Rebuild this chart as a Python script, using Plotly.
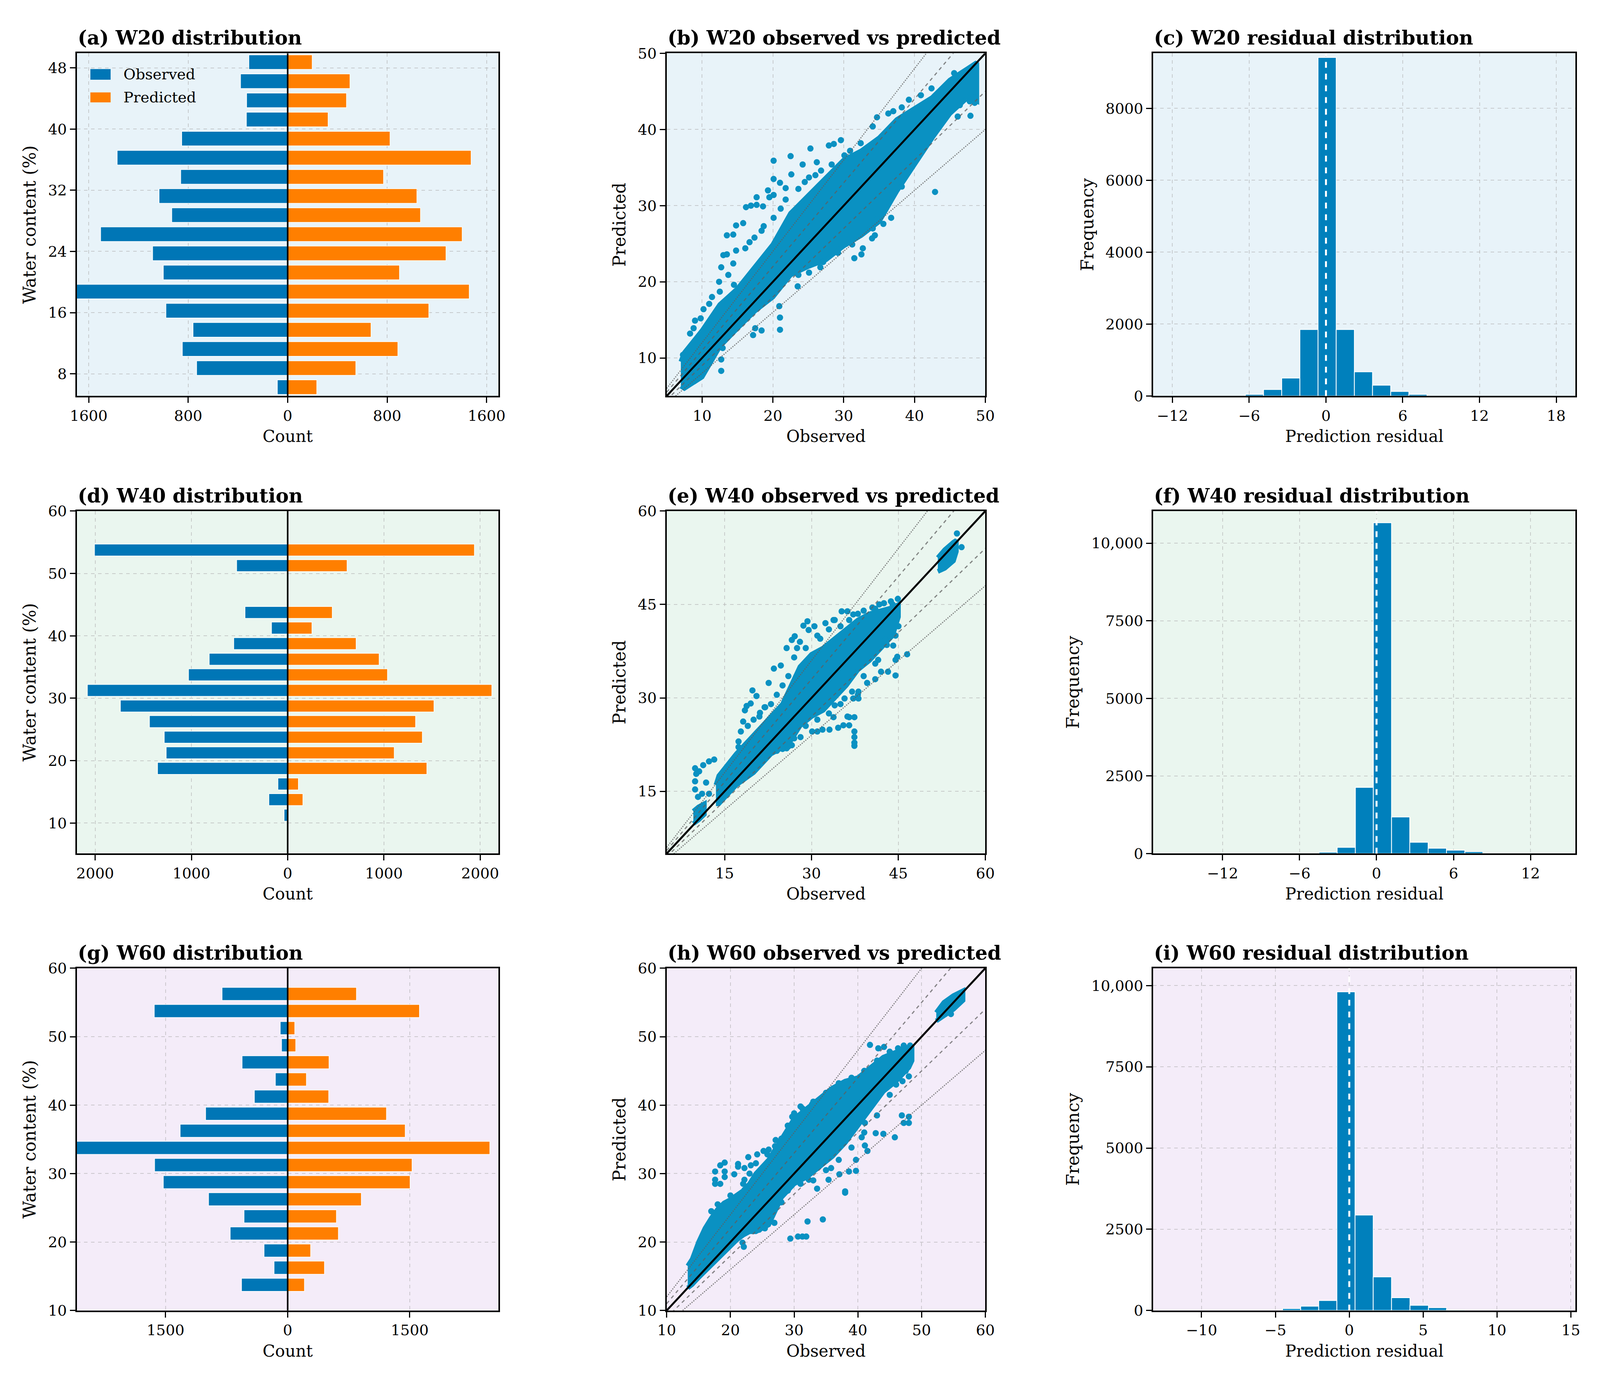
import numpy as np
import plotly.graph_objects as go

FONT = "DejaVu Serif"
BLUE = "#0076b6"
ORANGE = "#ff7f00"
SCAT = "#0a91c2"
HIST = "#0080bc"
BGS = ["#e8f3f9", "#eaf6ef", "#f4ecf9"]

# ---------------- distribution panels (a), (d), (g) ----------------
w20_centers = [6.25, 8.75, 11.25, 13.75, 16.25, 18.75, 21.25, 23.75, 26.25, 28.75,
               31.25, 33.75, 36.25, 38.75, 41.25, 43.75, 46.25, 48.75]
w20_observed = [83, 732, 847, 761, 979, 1700, 1000, 1086, 1504, 932,
                1034, 860, 1371, 852, 332, 330, 379, 312]
w20_predicted = [234, 548, 886, 670, 1135, 1460, 899, 1273, 1403, 1068,
                 1039, 771, 1475, 823, 325, 473, 501, 197]

w40_centers = [11.25, 13.75, 16.25, 18.75, 21.25, 23.75, 26.25, 28.75, 31.25, 33.75,
               36.25, 38.75, 41.25, 43.75, 46.25, 48.75, 51.25, 53.75]
w40_observed = [37, 195, 101, 1352, 1262, 1282, 1436, 1738, 2081, 1030,
                815, 560, 168, 443, 0, 0, 530, 2007]
w40_predicted = [0, 158, 111, 1446, 1107, 1399, 1329, 1520, 2121, 1037,
                 950, 711, 252, 463, 0, 0, 617, 1940]

w60_centers = [13.75, 16.25, 18.75, 21.25, 23.75, 26.25, 28.75, 31.25, 33.75, 36.25,
               38.75, 41.25, 43.75, 46.25, 48.75, 51.25, 53.75, 56.25]
w60_observed = [567, 167, 290, 706, 536, 972, 1528, 1635, 2600, 1321,
                1008, 409, 151, 560, 75, 91, 1639, 806]
w60_predicted = [206, 452, 282, 623, 599, 905, 1504, 1528, 2484, 1444,
                 1214, 504, 230, 508, 99, 87, 1619, 845]

# ---------------- observed vs predicted (b), (e), (h) ----------------
# dense core of each point cloud: observed positions with lower / upper predicted envelope
w20_core_obs = [7.0, 7.5, 10, 12.5, 15, 17.5, 20, 22.5, 25, 27.5, 30, 32.5, 35, 37.5, 40, 42.5, 45, 47.5, 48.8]
w20_core_lo = [6.3, 6.0, 7.5, 11.5, 13.9, 16.2, 18.0, 20.9, 22.0, 22.9, 24.7, 26.1, 27.9, 31.9, 35.4, 38.9, 42.1, 44.2, 43.7]
w20_core_hi = [9.5, 10.7, 13.6, 17.0, 19.1, 22.0, 24.9, 29.0, 31.4, 33.7, 36.0, 37.2, 38.9, 41.3, 42.7, 44.2, 46.5, 48.0, 48.8]
w20_pts_obs = [20.1, 22.5, 25.3, 29.6, 27.9, 28.6, 24.2, 26.2, 22.6, 20.1, 21.0, 21.8, 19.3, 17.7, 16.2,
               16.9, 17.7, 18.6, 19.5, 20.1, 14.8, 15.8, 13.5, 14.4, 13.0, 13.5, 14.4, 14.8, 12.7, 13.7,
               12.4, 14.5, 12.5, 11.4, 9.8, 8.8, 8.3, 7.3, 16.1, 16.7, 17.4, 18.4, 18.7, 20.1, 21.1,
               21.8, 23.6, 24.5, 25.1, 26.0, 26.8, 28.3, 30.1, 30.9, 32.4, 34.1, 34.7, 36.3, 37.0, 38.2,
               39.2, 40.9, 42.4, 45.6,
               21.0, 21.0, 20.9, 23.6, 23.5, 25.1, 26.7, 27.1, 29.2, 31.5, 32.5, 32.7, 31.2, 34.0, 35.6,
               36.7, 36.2, 37.0, 38.2, 37.5, 39.7, 40.5, 40.7, 42.9, 42.6, 46.1, 47.9, 45.8, 46.4, 47.8,
               17.2, 17.5, 18.4, 12.7, 12.7, 12.9, 34.1, 34.4, 34.7, 48.5, 48.5, 48.3, 10.2, 11.0, 9.0]
w20_pts_pred = [35.9, 36.5, 37.5, 38.6, 37.9, 38.1, 35.4, 35.7, 34.1, 33.5, 33.0, 32.3, 32.0, 31.1, 29.8,
                30.0, 30.1, 29.9, 31.1, 31.4, 27.4, 27.7, 26.1, 26.2, 23.5, 23.6, 22.4, 24.1, 21.9, 20.9,
                20.0, 19.6, 18.7, 18.0, 15.2, 13.9, 13.2, 10.4, 24.4, 25.2, 25.8, 26.7, 27.3, 28.4, 29.6,
                30.8, 32.2, 33.1, 33.7, 34.0, 34.6, 35.4, 36.6, 37.2, 38.2, 40.4, 41.6, 42.1, 42.4, 42.9,
                43.9, 44.5, 45.4, 47.4,
                13.7, 15.3, 16.8, 20.9, 19.4, 21.2, 21.9, 22.6, 23.8, 23.1, 23.6, 24.4, 24.9, 25.7, 27.6,
                28.4, 31.4, 31.6, 32.5, 33.0, 35.4, 36.7, 38.2, 31.8, 41.3, 41.7, 41.8, 43.3, 43.2, 43.7,
                13.0, 13.9, 13.6, 8.3, 9.8, 11.3, 27.0, 26.1, 28.2, 43.5, 45.0, 44.2, 16.4, 17.1, 14.9]

w40_core_obs = [13.5, 14, 17, 20, 23, 25, 26, 28, 30, 32, 34, 36, 38, 40, 42, 44, 45]
w40_core_lo = [13.0, 13.0, 16.0, 18.0, 21.0, 22.0, 22.5, 25.5, 27.0, 28.0, 30.0, 32.0, 34.5, 36.0, 38.0, 40.0, 43.0]
w40_core_hi = [16.0, 17.5, 21.0, 24.0, 27.0, 29.0, 31.0, 35.0, 37.0, 38.0, 39.5, 41.0, 42.5, 43.5, 44.0, 44.5, 45.0]
w40_low_obs = [9.6, 10.5, 11.5]
w40_low_lo = [9.8, 10.4, 11.3]
w40_low_hi = [11.8, 12.5, 13.0]
w40_top_obs = [51.8, 53.0, 54.5, 55.0]
w40_top_lo = [50.3, 50.8, 52.0, 53.5]
w40_top_hi = [52.5, 53.8, 55.0, 55.3]
w40_pts_obs = [9.9, 10.1, 10.6, 11.3, 12.3, 13.2, 9.9, 9.9, 10.4, 11.1, 11.8, 12.3,
               17.1, 17.4, 17.4, 17.8, 18.2, 18.5, 18.8, 19.5, 19.8, 20.5, 21.1, 21.9, 22.6, 23.5,
               24.7, 25.7, 26.6, 27.1, 28.6, 29.5, 29.3, 31.0, 32.4, 33.8, 35.2, 36.2, 37.2, 40.5,
               41.7, 43.7, 44.9, 30.1, 31.0, 31.9, 33.1, 34.6, 35.5, 36.5, 36.2, 37.4, 37.4, 37.4,
               37.4, 37.4, 36.5, 33.8, 35.7, 37.2, 38.1, 38.1, 39.6, 41.0, 42.0, 43.2, 44.5, 44.5,
               44.8, 46.5, 44.1, 42.7, 41.5, 28.1, 26.6, 25.7, 55.1, 55.9,
               19.0, 20.0, 21.0, 22.0, 23.0, 24.0, 25.0, 26.0, 27.0, 27.5, 28.0, 29.0, 30.5, 31.5, 33.0,
               34.0, 35.0, 36.5, 38.0, 39.0, 41.0, 42.5, 44.0,
               24.0, 25.0, 26.0, 27.0, 29.0, 31.0, 33.0, 35.0, 37.0, 39.0, 41.0, 43.0, 44.5, 45.0,
               26.5, 28.0, 34.0, 38.0]
w40_pts_pred = [18.7, 17.8, 18.2, 19.2, 19.8, 20.1, 16.6, 15.3, 14.1, 14.6, 16.4, 14.6,
                20.5, 22.1, 23.0, 24.6, 26.2, 28.0, 28.7, 29.1, 31.2, 30.3, 27.6, 28.5, 32.4, 34.7,
                35.2, 38.0, 39.3, 39.9, 41.6, 40.9, 42.3, 40.0, 42.0, 42.5, 43.9, 43.9, 43.4, 44.5,
                45.0, 45.5, 45.9, 24.6, 24.6, 24.9, 24.9, 25.2, 25.6, 25.6, 27.0, 26.9, 24.6, 23.7,
                22.8, 22.3, 26.9, 26.9, 29.9, 29.9, 29.9, 31.0, 32.4, 33.0, 34.2, 34.2, 33.6, 36.1,
                36.6, 37.0, 38.4, 39.3, 36.1, 23.7, 22.4, 21.9, 56.4, 54.2,
                25.5, 26.5, 27.0, 28.5, 29.0, 30.5, 32.0, 33.5, 36.5, 38.0, 39.0, 38.0, 41.5, 39.5, 41.0,
                42.5, 41.5, 42.5, 43.5, 44.0, 44.3, 45.2, 45.0,
                21.5, 21.8, 22.2, 23.5, 25.5, 26.5, 27.5, 29.0, 31.0, 33.5, 35.5, 38.5, 40.0, 41.5,
                24.5, 26.0, 28.8, 30.5]

w60_core_obs = [13.3, 14, 15, 16, 17, 18, 19, 20, 21, 22, 23, 24, 26, 28, 30, 32, 34, 36, 38, 40, 42, 44, 46, 48, 48.5]
w60_core_lo = [13.3, 13.8, 14.8, 15.7, 16.6, 17.6, 18.6, 19.5, 20.3, 21.0, 21.5, 21.5, 22.5, 26.5, 28.5,
               29.5, 31.0, 32.5, 34.5, 37.0, 39.5, 42.0, 43.5, 45.5, 46.5]
w60_core_hi = [16.5, 17.5, 20.0, 22.0, 23.5, 24.8, 25.7, 26.2, 26.8, 27.5, 28.5, 30.0, 32.0, 35.0, 38.0,
               39.5, 41.0, 42.5, 43.5, 44.0, 45.5, 47.0, 47.8, 48.5, 48.5]
w60_top_obs = [52.3, 53.5, 55.0, 56.5]
w60_top_lo = [52.3, 53.0, 54.0, 55.3]
w60_top_hi = [53.5, 55.0, 56.0, 56.7]
w60_pts_obs = [17.6, 17.6, 17.6, 18.4, 19.1, 19.1, 19.1, 18.4, 20.6, 21.2, 21.2, 22.2, 22.2, 22.2, 22.8,
               23.2, 24.2, 25.2, 25.8, 27.1, 28.0, 29.7, 31.3, 32.8, 34.1, 36.3, 38.0, 41.9, 43.2, 44.1,
               46.3, 47.2, 48.2, 46.9, 48.0, 48.0, 47.2, 45.8, 44.0, 42.8, 41.5, 39.7, 39.7, 38.6, 38.0,
               38.0, 37.1, 35.8, 34.5, 32.1, 29.4, 30.6, 31.3, 31.9, 26.9, 26.2, 24.5, 23.6, 24.5, 25.4,
               21.9, 22.1, 32.3, 33.6, 35.4, 40.6, 41.1, 41.1, 53.7, 54.6, 55.9,
               17.0, 18.0, 20.0, 22.0, 23.0, 24.0, 26.0, 27.0, 29.0, 30.0, 31.0, 33.0, 35.0, 37.0, 39.0,
               41.0, 43.0, 45.0, 47.0,
               28.0, 29.0, 31.0, 33.0, 35.0, 37.0, 39.0, 41.0, 43.0, 45.0, 47.0, 48.0, 46.0, 47.5]
w60_pts_pred = [30.3, 29.1, 28.5, 31.2, 31.6, 30.3, 29.5, 28.5, 29.9, 31.0, 31.4, 30.8, 29.1, 27.6, 32.4,
                31.2, 32.8, 33.3, 32.8, 34.9, 35.1, 38.3, 39.5, 40.1, 40.8, 42.0, 43.3, 48.8, 48.3, 48.5,
                48.3, 48.7, 48.7, 38.5, 38.3, 37.4, 37.4, 35.3, 35.8, 35.9, 33.3, 32.0, 30.4, 30.3, 27.4,
                27.2, 29.9, 30.8, 23.3, 23.0, 20.5, 20.8, 20.8, 20.8, 22.8, 23.7, 24.1, 22.0, 21.8, 22.0,
                19.9, 19.3, 29.1, 27.8, 29.1, 35.3, 34.1, 37.4, 53.3, 53.3, 56.2,
                24.5, 25.5, 26.8, 28.5, 30.0, 31.5, 33.5, 34.0, 37.0, 38.8, 39.8, 40.5, 41.8, 43.2, 44.0,
                45.0, 46.5, 47.8, 48.2,
                25.8, 27.5, 28.5, 29.0, 30.5, 32.0, 33.8, 36.0, 38.5, 41.5, 43.5, 44.2, 43.0, 45.0]

# ---------------- residual histograms (c), (f), (i) ----------------
w20_res_edges = [-6.30, -4.88, -3.46, -2.04, -0.62, 0.80, 2.22, 3.64, 5.06, 6.48, 7.90]
w20_res_counts = [47, 182, 498, 1850, 9415, 1850, 672, 300, 126, 47]
w40_res_edges = [-4.49, -3.07, -1.65, -0.25, 1.17, 2.59, 4.02, 5.45, 6.88, 8.29]
w40_res_counts = [46, 200, 2134, 10659, 1181, 366, 174, 110, 64]
w60_res_edges = [-4.52, -3.29, -2.07, -0.84, 0.39, 1.62, 2.86, 4.11, 5.36, 6.59, 7.82]
w60_res_counts = [61, 132, 307, 9807, 2939, 1035, 395, 158, 88, 18]

# ---------------- layout helpers ----------------
col_dom = [[0.0427, 0.3093], [0.4157, 0.6172], [0.7234, 0.9904]]
row_dom = [[0.7151, 0.9671], [0.3786, 0.6305], [0.0426, 0.2943]]

TICK_SIZE = 38
XLABEL_SIZE = 42
YLABEL_SIZE = 44
TITLE_SIZE = 50
LEGEND_SIZE = 38

fig = go.Figure()
layout = dict(autosize=True, margin=dict(l=0, r=0, t=0, b=0),
              paper_bgcolor="white", plot_bgcolor="white", showlegend=False,
              barmode="overlay", font=dict(family=FONT, color="black"))
shapes = []
annotations = []


def ax_names(i):
    s = "" if i == 1 else str(i)
    return "xaxis" + s, "yaxis" + s, "x" + s, "y" + s


def base_axis(label_size):
    return dict(showline=True, mirror=True, linecolor="black", linewidth=4,
                ticks="outside", ticklen=14, tickwidth=3, tickcolor="black",
                showgrid=True, gridcolor="rgba(175,175,175,0.6)", griddash="dash", gridwidth=2,
                zeroline=False, tickfont=dict(family=FONT, size=TICK_SIZE, color="black"),
                title=dict(font=dict(family=FONT, size=label_size, color="black"), standoff=18))


def setup_axes(i, row, col, xr, xt, xtt, yr, yt, ytt, xtitle, ytitle, title):
    xk, yk, xs, ys = ax_names(i)
    xa = base_axis(XLABEL_SIZE)
    xa.update(domain=col_dom[col], anchor=ys, range=xr, tickmode="array", tickvals=xt, ticktext=xtt)
    xa["title"]["text"] = xtitle
    ya = base_axis(YLABEL_SIZE)
    ya.update(domain=row_dom[row], anchor=xs, range=yr, tickmode="array", tickvals=yt, ticktext=ytt)
    ya["title"]["text"] = ytitle
    layout[xk] = xa
    layout[yk] = ya
    shapes.append(dict(type="rect", xref=xs + " domain", yref=ys + " domain", x0=0, x1=1, y0=0, y1=1,
                       fillcolor=BGS[row], line=dict(width=0), layer="below"))
    annotations.append(dict(text="<b>" + title + "</b>", xref=xs + " domain", yref=ys + " domain",
                            x=0, y=1, xanchor="left", yanchor="bottom", yshift=8, showarrow=False,
                            font=dict(family=FONT, size=TITLE_SIZE, color="black")))
    return xs, ys


def dist_panel(i, row, centers, obs, pred, xlim, xt, xtt, yr, yt, title):
    xs, ys = setup_axes(i, row, 0, [-xlim, xlim], xt, xtt, yr, yt, [str(v) for v in yt],
                        "Count", "Water content (%)", title)
    fig.add_trace(go.Bar(y=centers, x=-np.array(obs), orientation="h", width=1.9,
                         marker=dict(color=BLUE, line=dict(color="white", width=1.5)),
                         xaxis=xs, yaxis=ys, name="Observed"))
    fig.add_trace(go.Bar(y=centers, x=np.array(pred), orientation="h", width=1.9,
                         marker=dict(color=ORANGE, line=dict(color="white", width=1.5)),
                         xaxis=xs, yaxis=ys, name="Predicted"))
    shapes.append(dict(type="line", xref=xs, yref=ys + " domain", x0=0, x1=0, y0=0, y1=1,
                       line=dict(color="black", width=4), layer="above"))


def band(xs, ys, bx, lo, hi):
    fig.add_trace(go.Scatter(x=list(bx) + list(bx)[::-1], y=list(lo) + list(hi)[::-1],
                             fill="toself", fillcolor=SCAT, mode="lines",
                             line=dict(color=SCAT, width=12), xaxis=xs, yaxis=ys, hoverinfo="skip"))


def scatter_panel(i, row, lims, ticks, bands, pts_x, pts_y, title):
    xs, ys = setup_axes(i, row, 1, lims, ticks, [str(v) for v in ticks], lims, ticks,
                        [str(v) for v in ticks], "Observed", "Predicted", title)
    for bx, lo, hi in bands:
        band(xs, ys, bx, lo, hi)
    fig.add_trace(go.Scatter(x=pts_x, y=pts_y, mode="markers",
                             marker=dict(color=SCAT, size=16, line=dict(width=0)),
                             xaxis=xs, yaxis=ys))
    lx = np.array(lims, dtype=float)
    for k, dash in [(1.2, "dot"), (0.8, "dot"), (1.1, "dash"), (0.9, "dash")]:
        fig.add_trace(go.Scatter(x=lx, y=k * lx, mode="lines",
                                 line=dict(color="rgba(95,95,95,0.75)", width=3, dash=dash),
                                 xaxis=xs, yaxis=ys))
    fig.add_trace(go.Scatter(x=lx, y=lx, mode="lines", line=dict(color="black", width=5),
                             xaxis=xs, yaxis=ys))


def fmt(v):
    if v < 0:
        return "\u2212" + str(abs(v))
    if v >= 10000:
        return "{:,}".format(v)
    return str(v)


def resid_panel(i, row, edges, counts, xr, xt, yr, yt, title):
    xs, ys = setup_axes(i, row, 2, xr, xt, [fmt(v) for v in xt], yr, yt, [fmt(v) for v in yt],
                        "Prediction residual", "Frequency", title)
    e = np.array(edges)
    fig.add_trace(go.Bar(x=(e[:-1] + e[1:]) / 2, y=counts, width=np.diff(e),
                         marker=dict(color=HIST, line=dict(color="white", width=2)),
                         xaxis=xs, yaxis=ys))
    shapes.append(dict(type="line", xref=xs, yref=ys + " domain", x0=0, x1=0, y0=0, y1=1,
                       line=dict(color="white", width=5, dash="dash"), layer="above"))


# Row 1: W20
dist_panel(1, 0, w20_centers, w20_observed, w20_predicted, 1695,
           [-1600, -800, 0, 800, 1600], ["1600", "800", "0", "800", "1600"],
           [5.1, 49.9], [8, 16, 24, 32, 40, 48], "(a) W20 distribution")
scatter_panel(2, 0, [5, 50], [10, 20, 30, 40, 50],
              [(w20_core_obs, w20_core_lo, w20_core_hi)], w20_pts_obs, w20_pts_pred,
              "(b) W20 observed vs predicted")
resid_panel(3, 0, w20_res_edges, w20_res_counts, [-13.5, 19.5], [-12, -6, 0, 6, 12, 18],
            [0, 9530], [0, 2000, 4000, 6000, 8000], "(c) W20 residual distribution")

# Row 2: W40
dist_panel(4, 1, w40_centers, w40_observed, w40_predicted, 2190,
           [-2000, -1000, 0, 1000, 2000], ["2000", "1000", "0", "1000", "2000"],
           [5.1, 60], [10, 20, 30, 40, 50, 60], "(d) W40 distribution")
scatter_panel(5, 1, [5, 60], [15, 30, 45, 60],
              [(w40_core_obs, w40_core_lo, w40_core_hi), (w40_low_obs, w40_low_lo, w40_low_hi),
               (w40_top_obs, w40_top_lo, w40_top_hi)], w40_pts_obs, w40_pts_pred,
              "(e) W40 observed vs predicted")
resid_panel(6, 1, w40_res_edges, w40_res_counts, [-17.4, 15.5], [-12, -6, 0, 6, 12],
            [0, 11035], [0, 2500, 5000, 7500, 10000], "(f) W40 residual distribution")

# Row 3: W60
dist_panel(7, 2, w60_centers, w60_observed, w60_predicted, 2590,
           [-1500, 0, 1500], ["1500", "0", "1500"],
           [10, 60], [10, 20, 30, 40, 50, 60], "(g) W60 distribution")
scatter_panel(8, 2, [10, 60], [10, 20, 30, 40, 50, 60],
              [(w60_core_obs, w60_core_lo, w60_core_hi), (w60_top_obs, w60_top_lo, w60_top_hi)],
              w60_pts_obs, w60_pts_pred, "(h) W60 observed vs predicted")
resid_panel(9, 2, w60_res_edges, w60_res_counts, [-13.27, 15.31], [-10, -5, 0, 5, 10, 15],
            [0, 10535], [0, 2500, 5000, 7500, 10000], "(i) W60 residual distribution")

# legend for panel (a)
for (y0, y1, col, lab) in [(0.923, 0.954, BLUE, "Observed"), (0.857, 0.886, ORANGE, "Predicted")]:
    shapes.append(dict(type="rect", xref="x domain", yref="y domain", x0=0.032, x1=0.080,
                       y0=y0, y1=y1, fillcolor=col, line=dict(width=0), layer="above"))
    annotations.append(dict(text=lab, xref="x domain", yref="y domain", x=0.109, y=(y0 + y1) / 2,
                            xanchor="left", yanchor="middle", showarrow=False,
                            font=dict(family=FONT, size=LEGEND_SIZE, color="black")))

layout["shapes"] = shapes
layout["annotations"] = annotations
fig.update_layout(**layout)
fig.write_html("out.html", default_width="100vw", default_height="100vh",
               config={"responsive": True, "displayModeBar": False},
               post_script="document.body.style.margin='0';document.body.style.overflow='hidden';"
                           "Plotly.Plots.resize(document.getElementById('{plot_id}'));")
